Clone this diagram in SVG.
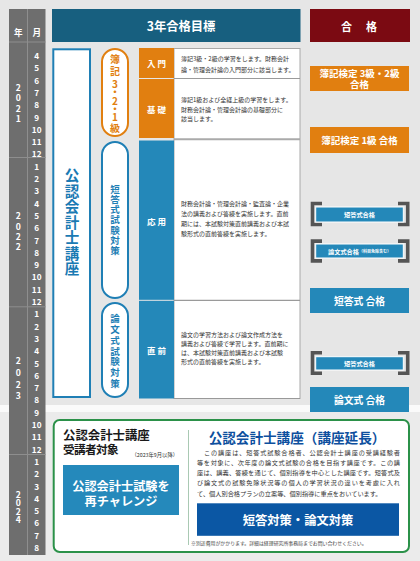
<svg xmlns="http://www.w3.org/2000/svg" width="420" height="561" viewBox="0 0 420 561">
<style>
text{font-family:"Noto Sans CJK JP","Noto Sans CJK SC",sans-serif;dominant-baseline:central}
.c{text-anchor:middle}
.bd{font-weight:700}
.v{writing-mode:vertical-rl;text-orientation:upright;text-anchor:middle}
.mo{fill:#fff;font-weight:700;font-size:8.2px;text-anchor:middle}
.yr{fill:#fff;font-weight:700;font-size:8.6px}
.sep{stroke:#8e8e8e;stroke-width:1}
.stg{fill:#fff;font-weight:700;font-size:8.5px;text-anchor:middle}
.desc{fill:#333;font-size:6px}
.org{fill:#e17f10}
.blu{fill:#2488b9}
.pw{fill:#fff;font-weight:700;text-anchor:middle}
.brk{fill:none;stroke:#555;stroke-width:3.6}
.vo{fill:#e17f10;font-weight:700;font-size:10px}
.vb{fill:#1f7fb5;font-weight:700;font-size:9.5px}
.vk{fill:#1a7ab3;font-weight:700;font-size:14.5px}
.para{fill:#333;font-size:6.2px}
</style>
<rect width="420" height="561" fill="#e6e6e6"/>
<rect y="412" width="420" height="149" fill="#ebebeb"/>
<rect y="405" width="420" height="7" fill="#fafafa"/>

<g id="timeline">
<rect x="9" y="9" width="36.5" height="546" fill="#6e6e6e"/>
<line class="sep" x1="27.5" y1="9" x2="27.5" y2="555"/>
<line class="sep" x1="9" y1="42" x2="45.5" y2="42"/>
<line class="sep" x1="9" y1="157.5" x2="45.5" y2="157.5"/>
<line class="sep" x1="9" y1="306.8" x2="45.5" y2="306.8"/>
<line class="sep" x1="9" y1="454.5" x2="45.5" y2="454.5"/>
<text class="yr c" x="18.3" y="32" font-size="9px">年</text>
<text class="yr c" x="36.7" y="32" font-size="9px">月</text>
<text class="yr v" x="18.3" y="104" letter-spacing="1.7">2021</text>
<text class="yr v" x="18.3" y="232.5" letter-spacing="1.8">2022</text>
<text class="yr v" x="18.3" y="380" letter-spacing="3">2023</text>
<text class="yr v" x="18.3" y="507" letter-spacing="-0.1">2024</text>
<text class="mo" x="36.7" y="55">4</text><text class="mo" x="36.7" y="67.3">5</text><text class="mo" x="36.7" y="79.6">6</text><text class="mo" x="36.7" y="91.9">7</text><text class="mo" x="36.7" y="104.2">8</text><text class="mo" x="36.7" y="116.5">9</text><text class="mo" x="36.7" y="128.8">10</text><text class="mo" x="36.7" y="141.1">11</text><text class="mo" x="36.7" y="153.4">12</text>
<text class="mo" x="36.7" y="165.7">1</text><text class="mo" x="36.7" y="178">2</text><text class="mo" x="36.7" y="190.3">3</text><text class="mo" x="36.7" y="202.6">4</text><text class="mo" x="36.7" y="214.9">5</text><text class="mo" x="36.7" y="227.2">6</text><text class="mo" x="36.7" y="239.5">7</text><text class="mo" x="36.7" y="251.8">8</text><text class="mo" x="36.7" y="264.1">9</text><text class="mo" x="36.7" y="276.4">10</text><text class="mo" x="36.7" y="288.7">11</text><text class="mo" x="36.7" y="301">12</text>
<text class="mo" x="36.7" y="313.3">1</text><text class="mo" x="36.7" y="325.6">2</text><text class="mo" x="36.7" y="337.9">3</text><text class="mo" x="36.7" y="350.2">4</text><text class="mo" x="36.7" y="362.5">5</text><text class="mo" x="36.7" y="374.8">6</text><text class="mo" x="36.7" y="387.1">7</text><text class="mo" x="36.7" y="399.4">8</text><text class="mo" x="36.7" y="411.7">9</text><text class="mo" x="36.7" y="424">10</text><text class="mo" x="36.7" y="436.3">11</text><text class="mo" x="36.7" y="448.6">12</text>
<text class="mo" x="36.7" y="460.9">1</text><text class="mo" x="36.7" y="473.2">2</text><text class="mo" x="36.7" y="485.5">3</text><text class="mo" x="36.7" y="497.8">4</text><text class="mo" x="36.7" y="510.1">5</text><text class="mo" x="36.7" y="522.4">6</text><text class="mo" x="36.7" y="534.7">7</text><text class="mo" x="36.7" y="547">8</text>
</g>

<g id="header-goal">
<rect x="52" y="9" width="248.5" height="33" fill="#175f7f"/>
<text class="pw" x="181" y="25.5" font-size="12.3px">3年合格目標</text>
</g>
<g id="header-pass">
<rect x="310" y="9" width="100" height="33" fill="#7b0a12"/>
<text class="pw" x="346.5" y="26" font-size="11px">合</text>
<text class="pw" x="371.5" y="26" font-size="11px">格</text>
</g>

<g id="course-cpa">
<rect x="53.3" y="49.3" width="36.7" height="347.7" fill="#fff" stroke="#1f7fb5" stroke-width="2"/>
<text class="vk v" x="72" y="222.5" letter-spacing="1">公認会計士講座</text>
</g>

<g id="pill-boki">
<rect x="102" y="49" width="26" height="87" rx="13" fill="#fff" stroke="#e17f10" stroke-width="2"/>
<text class="vo v" x="115" y="66" letter-spacing="1.5">簿記</text>
<text class="vo v" x="115" y="100" letter-spacing="-1.6">3・2・1</text>
<text class="vo v" x="115" y="128">級</text>
</g>
<g id="pill-tanto">
<rect x="102" y="142" width="26" height="156" rx="13" fill="#fff" stroke="#1f7fb5" stroke-width="2"/>
<text class="vb v" x="115" y="220.3" letter-spacing="0.8">短答式試験対策</text>
</g>
<g id="pill-ronbun">
<rect x="102" y="303" width="26" height="94" rx="13" fill="#fff" stroke="#1f7fb5" stroke-width="2"/>
<text class="vb v" x="115" y="351.5" letter-spacing="1.2">論文式試験対策</text>
</g>

<g id="stages">
<rect x="174" y="48.5" width="126" height="350" fill="#fff" stroke="#a8a8a8" stroke-width="1"/>
<line x1="174" y1="78.5" x2="300" y2="78.5" stroke="#9a9a9a" stroke-width="1"/>
<line x1="174" y1="139.3" x2="300" y2="139.3" stroke="#aaa" stroke-width="2"/>
<line x1="174" y1="300.3" x2="300" y2="300.3" stroke="#9a9a9a" stroke-width="1.2"/>
<line x1="174" y1="398.5" x2="300" y2="398.5" stroke="#999" stroke-width="1.2"/>
</g>
<g id="stage-nyumon">
<rect class="org" x="139" y="48" width="35" height="30"/>
<text class="stg" x="156.5" y="63.3">入 門</text>
<text class="desc" x="181" y="58">簿記3級・2級の学習をします。財務会計</text>
<text class="desc" x="181" y="69">論・管理会計論の入門部分に該当します。</text>
</g>
<g id="stage-kiso">
<rect class="org" x="139" y="79" width="35" height="59"/>
<text class="stg" x="156.5" y="108.5">基 礎</text>
<text class="desc" x="181" y="99.3">簿記1級および全経上級の学習をします。</text>
<text class="desc" x="181" y="109">財務会計論・管理会計論の基礎部分に</text>
<text class="desc" x="181" y="118.5">該当します。</text>
</g>
<g id="stage-oyo">
<rect class="blu" x="139" y="140.5" width="35" height="159.3"/>
<text class="stg" x="156.5" y="221">応 用</text>
<text class="desc" x="181" y="203.3">財務会計論・管理会計論・監査論・企業</text>
<text class="desc" x="181" y="213.3">法の講義および答練を実施します。直前</text>
<text class="desc" x="181" y="223.3">期には、本試験対策直前講義および本試</text>
<text class="desc" x="181" y="233.3">験形式の直前答練を実施します。</text>
</g>
<g id="stage-chokuzen">
<rect class="blu" x="139" y="300.8" width="35" height="97.7"/>
<text class="stg" x="156.5" y="350">直 前</text>
<text class="desc" x="181" y="334.5">論文の学習方法および論文作成方法を</text>
<text class="desc" x="181" y="343.5">講義および答練で学習します。直前期に</text>
<text class="desc" x="181" y="352.5">は、本試験対策直前講義および本試験</text>
<text class="desc" x="181" y="361.5">形式の直前答練を実施します。</text>
</g>

<g id="pass-boki32">
<rect class="org" x="310" y="66" width="99" height="25"/>
<text class="pw" font-size="9.5px"><tspan x="359.5" y="72.8">簿記検定 3級・2級</tspan><tspan x="359.5" y="83.8">合格</tspan></text>
</g>
<g id="pass-boki1">
<rect class="org" x="310" y="127" width="99" height="26"/>
<text class="pw" x="359.5" y="140" font-size="9.5px">簿記検定 1級 合格</text>
</g>
<g id="pass-tanto-1">
<path class="brk" d="M322 203.5H312.5V224.5H322M398 203.5H407.7V224.5H398"/>
<rect class="blu" x="315.7" y="207" width="87.6" height="15" stroke="#fff" stroke-width="1"/>
<text class="pw" x="359.5" y="214.7" font-size="6.2px">短答式合格</text>
</g>
<g id="pass-ronbun-1">
<path class="brk" d="M322 241.1H312.5V260.9H322M398 241.1H407.7V260.9H398"/>
<rect class="blu" x="315.7" y="244" width="87.6" height="14" stroke="#fff" stroke-width="1"/>
<text class="pw" x="359.5" y="251.2" font-size="6.2px">論文式合格<tspan font-size="4px">（科目免除含む）</tspan></text>
</g>
<g id="pass-tanto-2">
<rect class="blu" x="310" y="288" width="99" height="25"/>
<text class="pw" x="359.5" y="300.5" font-size="9.8px">短答式 合格</text>
</g>
<g id="pass-tanto-3">
<path class="brk" d="M322 352.8H312.5V373.2H322M398 352.8H407.7V373.2H398"/>
<rect class="blu" x="315.7" y="356.7" width="87.6" height="13.3" stroke="#fff" stroke-width="1"/>
<text class="pw" x="359.5" y="363.5" font-size="6.2px">短答式合格</text>
</g>
<g id="pass-ronbun-2">
<rect class="blu" x="310" y="387" width="99" height="25"/>
<text class="pw" x="359.5" y="399.5" font-size="9.8px">論文式 合格</text>
</g>

<g id="extension">
<rect x="53.7" y="420" width="355.3" height="132" rx="6" fill="#fff" stroke="#2b9149" stroke-width="2"/>
<text class="bd" fill="#1a1a1a"><tspan x="63" y="434.5" font-size="12.4px">公認会計士講座</tspan><tspan x="63" y="448.5" font-size="11.6px" letter-spacing="-0.6">受講者対象</tspan></text>
<text x="131.5" y="455" font-size="5.3px" fill="#333">（2023年9月以降）</text>
<rect x="63" y="465" width="116" height="50" fill="#2589bb"/>
<text class="pw" font-size="12.2px"><tspan x="121" y="486">公認会計士試験を</tspan><tspan x="121" y="500.5">再チャレンジ</tspan></text>
<line x1="188.5" y1="430" x2="188.5" y2="545" stroke="#a9c9b3" stroke-width="1"/>
<text class="c bd" x="297" y="437" font-size="13.6px" fill="#0d4f9e">公認会計士講座（講座延長）</text>
<text class="para" x="197" y="452" textLength="203" lengthAdjust="spacing">　この講座は、短答式試験合格者、公認会計士講座の受講経験者</text>
<text class="para" x="197" y="462" textLength="203" lengthAdjust="spacing">等を対象に、次年度の論文式試験の合格を目指す講座です。この講</text>
<text class="para" x="197" y="472.3" textLength="203" lengthAdjust="spacing">座は、講義、答練を通じて、個別指導を中心とした講座です。短答式及</text>
<text class="para" x="197" y="482.6" textLength="203" lengthAdjust="spacing">び論文式の試験免除状況等の個人の学習状況の違いを考慮に入れ</text>
<text class="para" x="197" y="493">て、個人別合格プランの立案等、個別指導に重点をおいています。</text>
<rect x="197" y="503.3" width="202" height="32.5" fill="#0b57a4"/>
<text class="pw" x="298" y="519.5" font-size="12.3px">短答対策・論文対策</text>
<text x="191" y="542.5" font-size="4.9px" fill="#444">※別途費用がかかります。詳細は経理研究所事務局までお問い合わせください。</text>
</g>
</svg>
